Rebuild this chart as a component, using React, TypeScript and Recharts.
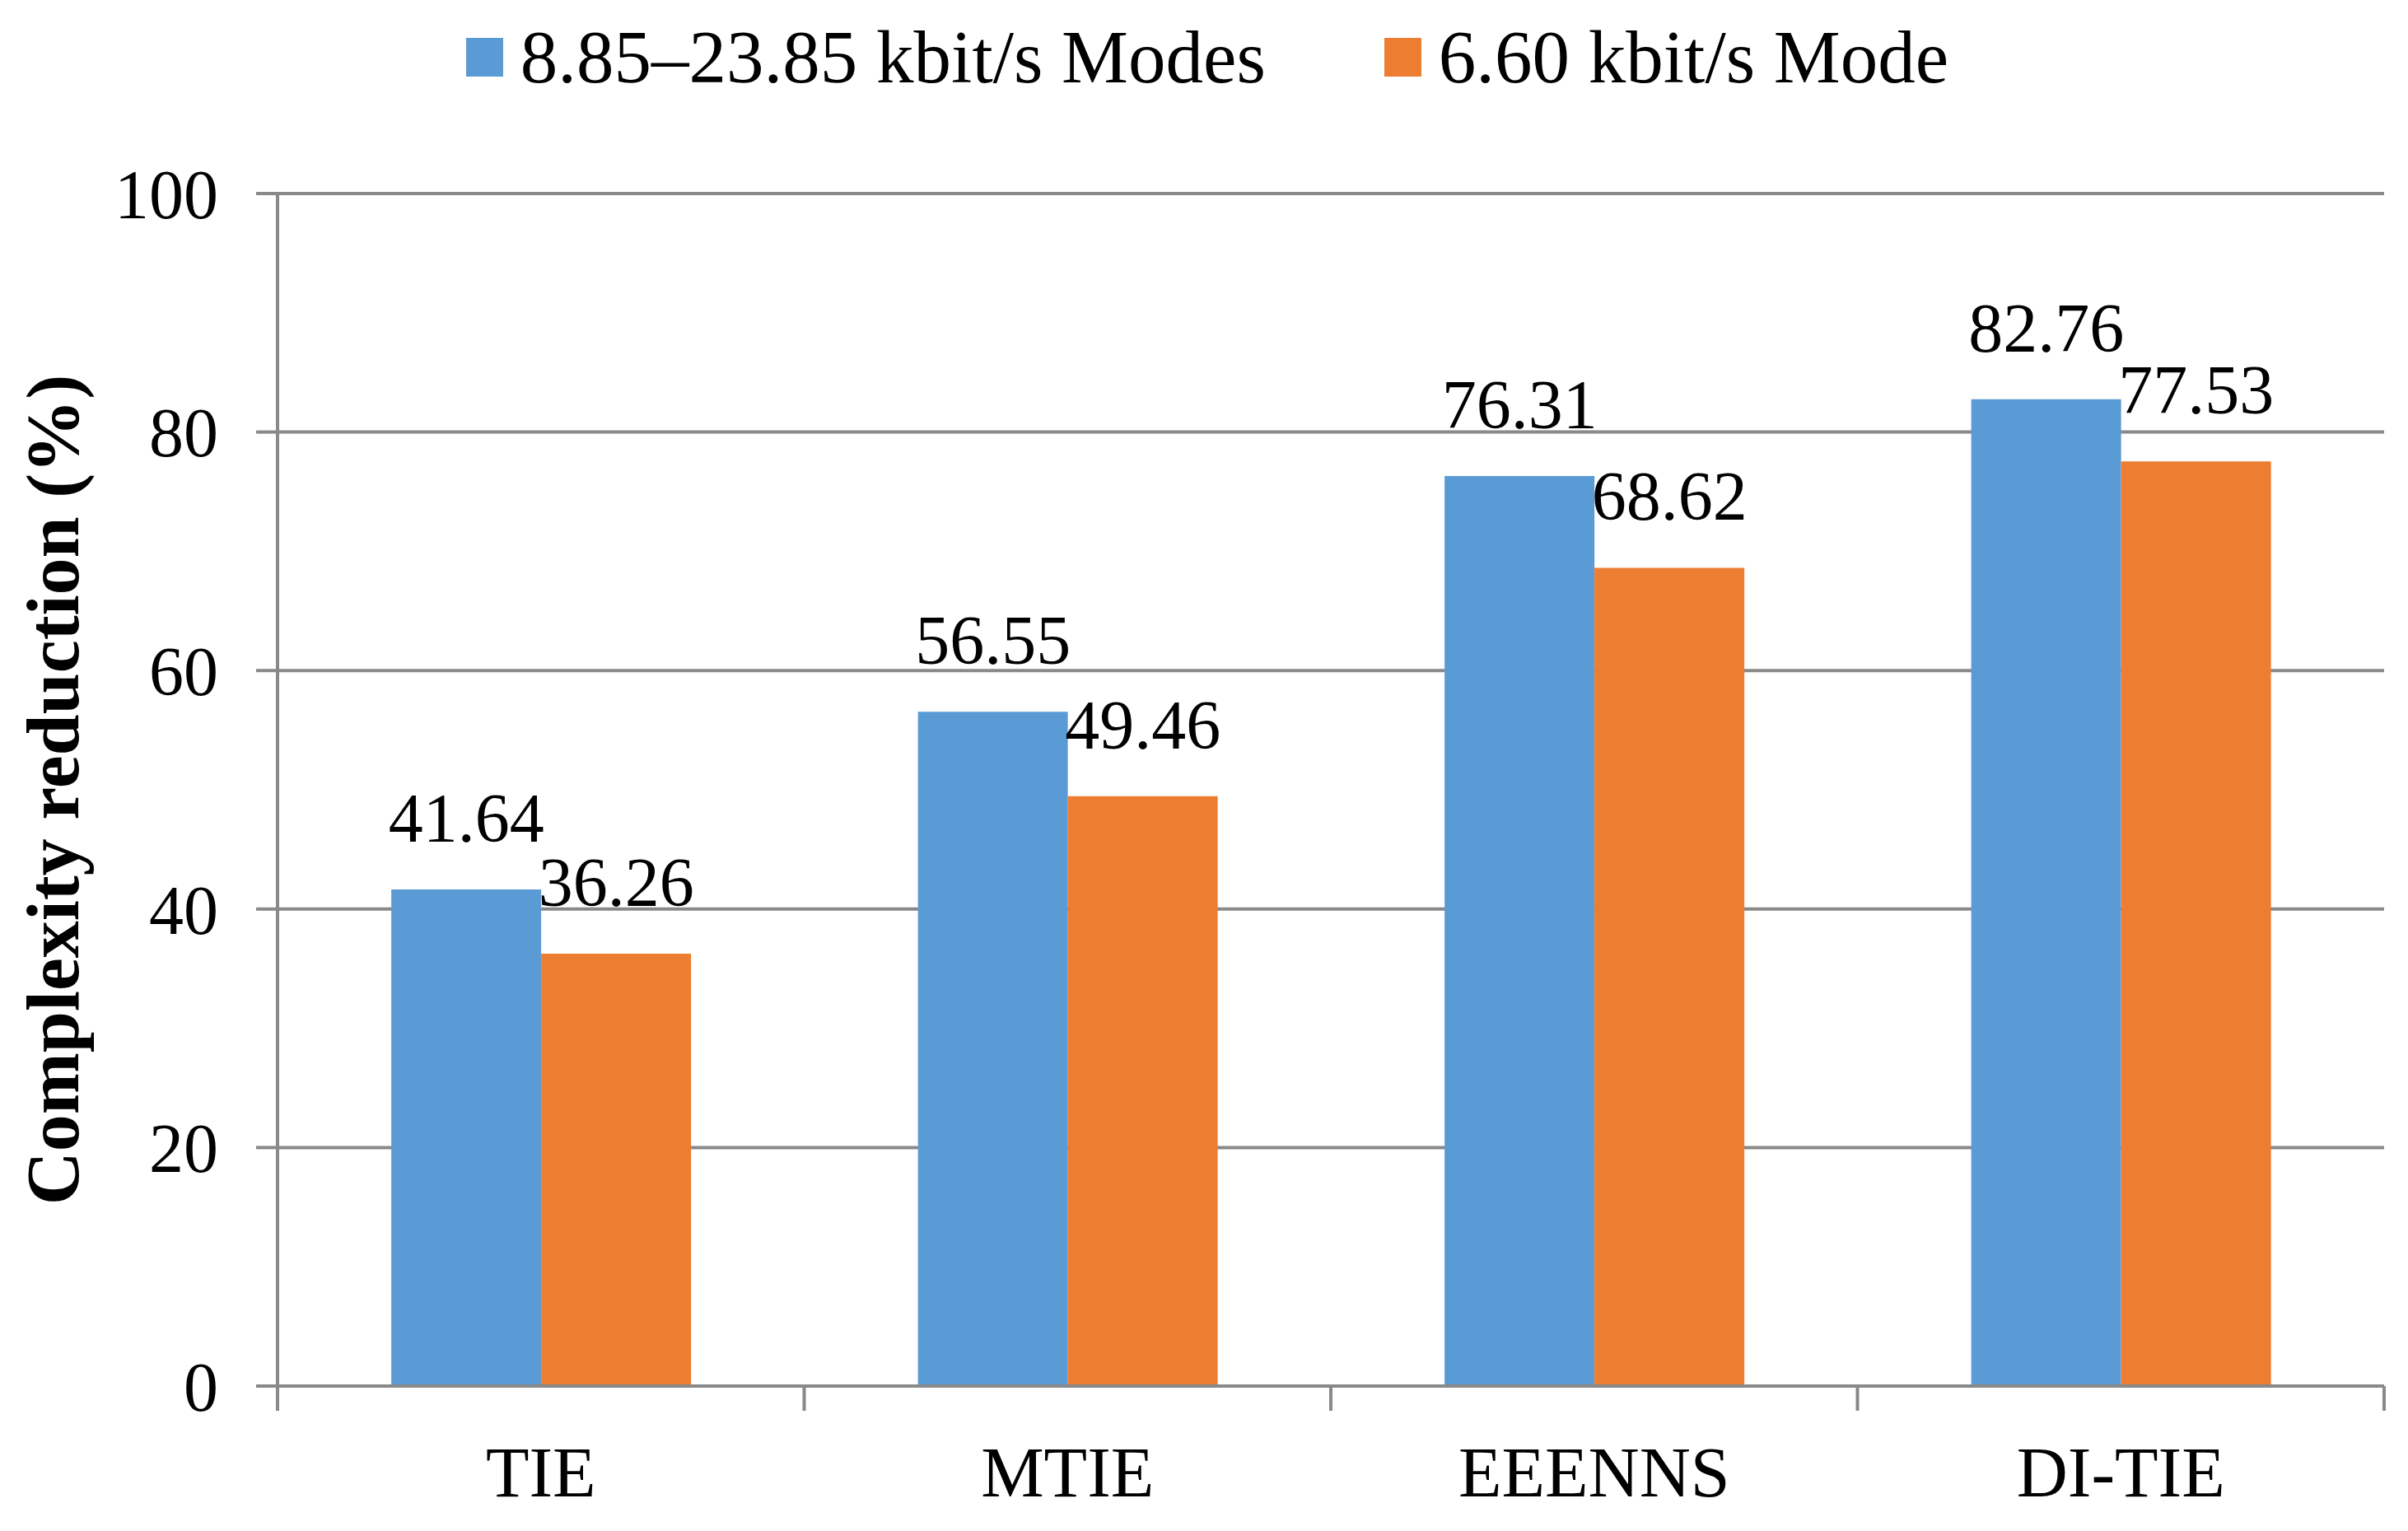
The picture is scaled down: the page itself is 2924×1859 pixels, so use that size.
import React from 'react';
import { BarChart, Bar, XAxis, YAxis, CartesianGrid, Legend, LabelList } from 'recharts';

const categories = ['TIE', 'MTIE', 'EEENNS', 'DI-TIE'];
const highModes = [41.64, 56.55, 76.31, 82.76];
const lowMode = [36.26, 49.46, 68.62, 77.53];
const yTicks = [0, 20, 40, 60, 80, 100];
const seriesNames = ['8.85\u201323.85 kbit/s Modes', '6.60 kbit/s Mode'];

const data = categories.map((c, i) => ({ name: c, high: highModes[i], low: lowMode[i] }));

const FONT = '"Liberation Serif", "Times New Roman", serif';
const GRID = '#898989';

const CategoryTick = (props: any) => {
  const { x, y, payload, index, visibleTicksCount } = props;
  const half = payload && payload.offset ? payload.offset : 0;
  const isLast = index === visibleTicksCount - 1;
  return (
    <g>
      <line x1={x - half} x2={x - half} y1={y} y2={y + 30} stroke={GRID} strokeWidth={4} />
      {isLast && <line x1={x + half} x2={x + half} y1={y} y2={y + 30} stroke={GRID} strokeWidth={4} />}
      <text x={x} y={y + 134} textAnchor="middle" fontSize={86} fontFamily={FONT} fill="#000">
        {payload.value}
      </text>
    </g>
  );
};

const LegendContent = (props: any) => {
  const payload = [...(props.payload || [])].sort(
    (a: any, b: any) => seriesNames.indexOf(a.value) - seriesNames.indexOf(b.value)
  );
  return (
    <div style={{ display: 'flex', justifyContent: 'center', alignItems: 'center', fontFamily: FONT, fontSize: 91, lineHeight: '91px', color: '#000', paddingLeft: 8 }}>
      {payload.map((p: any, i: number) => (
        <div key={i} style={{ display: 'flex', alignItems: 'center', marginRight: i < payload.length - 1 ? 144 : 0 }}>
          <div style={{ width: 45, height: 47, background: p.color, marginRight: 21 }} />
          <span style={{ whiteSpace: 'nowrap' }}>{p.value}</span>
        </div>
      ))}
    </div>
  );
};

export default function App() {
  return (
    <div style={{ position: 'absolute', left: 0, top: 0, background: '#fff' }}>
      <BarChart
        width={2924}
        height={1859}
        data={data}
        margin={{ top: 235, right: 29, bottom: 0, left: 0 }}
        barCategoryGap="21.6%"
        barGap={0}
      >
        <CartesianGrid vertical={false} stroke={GRID} strokeWidth={4} />
        <XAxis
          dataKey="name"
          height={176}
          tickLine={false}
          tickSize={0}
          tickMargin={0}
          axisLine={{ stroke: GRID, strokeWidth: 4 }}
          tick={<CategoryTick />}
          interval={0}
        />
        <YAxis
          width={337}
          domain={[0, 100]}
          ticks={yTicks}
          tickSize={26}
          tickMargin={46}
          tickLine={{ stroke: GRID, strokeWidth: 4 }}
          axisLine={{ stroke: GRID, strokeWidth: 4 }}
          tick={{ fontSize: 84, fontFamily: FONT, fill: '#000' }}
          label={{
            value: 'Complexity reduction (%)',
            angle: -90,
            position: 'insideLeft',
            offset: 63,
            style: { textAnchor: 'middle', fontSize: 90, fontWeight: 'bold', fontFamily: FONT, fill: '#000' },
          }}
        />
        <Legend
          layout="horizontal"
          verticalAlign="middle"
          align="center"
          content={<LegendContent />}
          wrapperStyle={{ top: 24, left: 0, width: 2924, height: 95 }}
        />
        <Bar dataKey="high" name={seriesNames[0]} fill="#5B9BD5" isAnimationActive={false}>
          <LabelList dataKey="high" position="top" offset={58} fontSize={84} fontFamily={FONT} fill="#000" />
        </Bar>
        <Bar dataKey="low" name={seriesNames[1]} fill="#ED7D31" isAnimationActive={false}>
          <LabelList dataKey="low" position="top" offset={58} fontSize={84} fontFamily={FONT} fill="#000" />
        </Bar>
      </BarChart>
    </div>
  );
}
